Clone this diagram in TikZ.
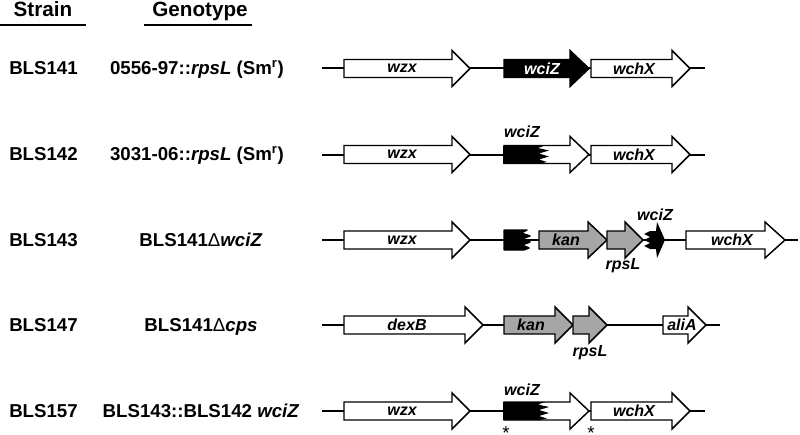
\documentclass[tikz,border=0pt]{standalone}
\usepackage{fontspec}
\setmainfont{Liberation Sans}

\begin{document}
\begin{tikzpicture}[x=0.75pt,y=0.75pt,yscale=-1,xscale=1,
  backbone/.style={line width=1.5pt},
  genewhite/.style={draw, line width=1.1pt, line join=miter, fill=white},
  genegray/.style={genewhite, fill=black!35},
  geneblack/.style={genewhite, fill=black},
  headlbl/.style={inner sep=0.75pt, font=\fontsize{15.5}{18}\selectfont\bfseries},
  rowlbl/.style={inner sep=0.75pt, font=\fontsize{14}{16}\selectfont\bfseries},
  genelbl/.style={inner sep=0.75pt, font=\fontsize{12}{14}\selectfont\bfseries\itshape}]
\useasboundingbox (0,0) rectangle (800,435);

%Straight Lines (headings)
\draw [line width=1.1pt]  (0,25) -- (86,25) ;
\draw [line width=1.1pt]  (144,25) -- (252,25) ;

% Text Node
\draw (43,17) node [anchor=base][headlbl] (hstrain) {Strain};
% Text Node
\draw (200,17) node [anchor=base][headlbl] (hgeno) {Genotype};

%Row BLS141
\draw [backbone]  (322,68.5) -- (705,68.5) ;
\draw [genewhite] (344,59.5) -- (452,59.5) -- (452,50.5) -- (470,68.5) -- (452,86.5) -- (452,77.5) -- (344,77.5) -- cycle ;
\draw [geneblack] (504,59.5) -- (570,59.5) -- (570,50.5) -- (589,68.5) -- (570,86.5) -- (570,77.5) -- (504,77.5) -- cycle ;
\draw [genewhite] (591,59.5) -- (672,59.5) -- (672,50.5) -- (690,68.5) -- (672,86.5) -- (672,77.5) -- (591,77.5) -- cycle ;
\draw (8,74.5) node [anchor=base west][rowlbl] (s141) {BLS141};
\draw (197,74.5) node [anchor=base][rowlbl] (g141) {0556-97::\textit{rpsL} (Sm\textsuperscript{r})};
\draw (402,68.5) node [genelbl] (wzx141) {wzx};
\draw (542,68.5) node [genelbl, text=white] (wciz141) {wciZ};
\draw (634,68.5) node [genelbl] (wchx141) {wchX};

%Row BLS142
\draw [backbone]  (322,154.5) -- (705,154.5) ;
\draw [genewhite] (344,145.5) -- (452,145.5) -- (452,136.5) -- (470,154.5) -- (452,172.5) -- (452,163.5) -- (344,163.5) -- cycle ;
\draw [genewhite] (504,145.5) -- (570,145.5) -- (570,136.5) -- (589,154.5) -- (570,172.5) -- (570,163.5) -- (504,163.5) -- cycle ;
\fill (504,145.5) -- (545,145.5) -- (538,148) -- (549,150.5) -- (539,153.5) -- (549,156.5) -- (539,159.5) -- (547,162) -- (540,163.5) -- (504,163.5) -- cycle ;
\draw [line width=1.1pt] (504,145.5) -- (504,163.5) ;
\draw [genewhite] (591,145.5) -- (672,145.5) -- (672,136.5) -- (690,154.5) -- (672,172.5) -- (672,163.5) -- (591,163.5) -- cycle ;
\draw (8,160.5) node [anchor=base west][rowlbl] (s142) {BLS142};
\draw (197,160.5) node [anchor=base][rowlbl] (g142) {3031-06::\textit{rpsL} (Sm\textsuperscript{r})};
\draw (402,154.5) node [genelbl] (wzx142) {wzx};
\draw (522,132) node [genelbl] (wciz142) {wciZ};
\draw (634,154.5) node [genelbl] (wchx142) {wchX};

%Row BLS143
\draw [backbone]  (322,240) -- (798,240) ;
\draw [genewhite] (344,231) -- (452,231) -- (452,222) -- (470,240) -- (452,258) -- (452,249) -- (344,249) -- cycle ;
\draw [geneblack, line join=round] (504,230) -- (527,230) -- (521,233) -- (530,236) -- (522,239) -- (530,242) -- (522,245) -- (529,248) -- (524,250) -- (504,250) -- cycle ;
\draw [genegray]  (539,231) -- (588,231) -- (588,222) -- (607,240) -- (588,258) -- (588,249) -- (539,249) -- cycle ;
\draw [genegray]  (607,231) -- (625,231) -- (625,222) -- (643,240) -- (625,258) -- (625,249) -- (607,249) -- cycle ;
\fill (650,231) -- (656,231) -- (657,222) -- (665,240) -- (657,258) -- (656,249) -- (650,249) -- (644,246) -- (650,243) -- (644,240) -- (650,237) -- (644,234) -- cycle ;
\draw [genewhite] (686,231) -- (765,231) -- (765,222) -- (785,240) -- (765,258) -- (765,249) -- (686,249) -- cycle ;
\draw (8,246) node [anchor=base west][rowlbl] (s143) {BLS143};
\draw (201,246) node [anchor=base][rowlbl] (g143) {BLS141{\mdseries Δ}\textit{wciZ}};
\draw (402,240) node [genelbl] (wzx143) {wzx};
\draw (566,240) node [genelbl] (kan143) {kan};
\draw (623,266) node [genelbl] (rpsl143) {rpsL};
\draw (655,215) node [genelbl] (wciz143) {wciZ};
\draw (732,240) node [genelbl] (wchx143) {wchX};

%Row BLS147
\draw [backbone]  (322,325) -- (720,325) ;
\draw [genewhite] (344,316) -- (465,316) -- (465,307) -- (483,325) -- (465,343) -- (465,334) -- (344,334) -- cycle ;
\draw [genegray]  (504,316) -- (555,316) -- (555,307) -- (573,325) -- (555,343) -- (555,334) -- (504,334) -- cycle ;
\draw [genegray]  (573,316) -- (589,316) -- (589,307) -- (607,325) -- (589,343) -- (589,334) -- (573,334) -- cycle ;
\draw [genewhite] (663,316) -- (688,316) -- (688,307) -- (706,325) -- (688,343) -- (688,334) -- (663,334) -- cycle ;
\draw (8,331) node [anchor=base west][rowlbl] (s147) {BLS147};
\draw (201,331) node [anchor=base][rowlbl] (g147) {BLS141{\mdseries Δ}\textit{cps}};
\draw (407,325) node [genelbl] (dexb147) {dexB};
\draw (531,325) node [genelbl] (kan147) {kan};
\draw (590,353) node [genelbl] (rpsl147) {rpsL};
\draw (682,325) node [genelbl] (alia147) {aliA};

%Row BLS157
\draw [backbone]  (322,411) -- (705,411) ;
\draw [genewhite] (344,402) -- (452,402) -- (452,393) -- (470,411) -- (452,429) -- (452,420) -- (344,420) -- cycle ;
\draw [genewhite] (504,402) -- (570,402) -- (570,393) -- (589,411) -- (570,429) -- (570,420) -- (504,420) -- cycle ;
\fill (504,402) -- (545,402) -- (538,404.5) -- (549,407) -- (539,410) -- (549,413) -- (539,416) -- (547,418.5) -- (540,420) -- (504,420) -- cycle ;
\draw [line width=1.1pt] (504,402) -- (504,420) ;
\draw [genewhite] (591,402) -- (672,402) -- (672,393) -- (690,411) -- (672,429) -- (672,420) -- (591,420) -- cycle ;
\draw (8,417) node [anchor=base west][rowlbl] (s157) {BLS157};
\draw (201,417) node [anchor=base][rowlbl] (g157) {BLS143::BLS142 \textit{wciZ}};
\draw (402,411) node [genelbl] (wzx157) {wzx};
\draw (522,390) node [genelbl] (wciz157) {wciZ};
\draw (634,411) node [genelbl] (wchx157) {wchX};
\draw (506,431) node [anchor=base][inner sep=0pt][font=\fontsize{14}{16}\selectfont] (ast1) {\raisebox{-0.43em}{*}};
\draw (591,431) node [anchor=base][inner sep=0pt][font=\fontsize{14}{16}\selectfont] (ast2) {\raisebox{-0.43em}{*}};

\end{tikzpicture}
\end{document}
